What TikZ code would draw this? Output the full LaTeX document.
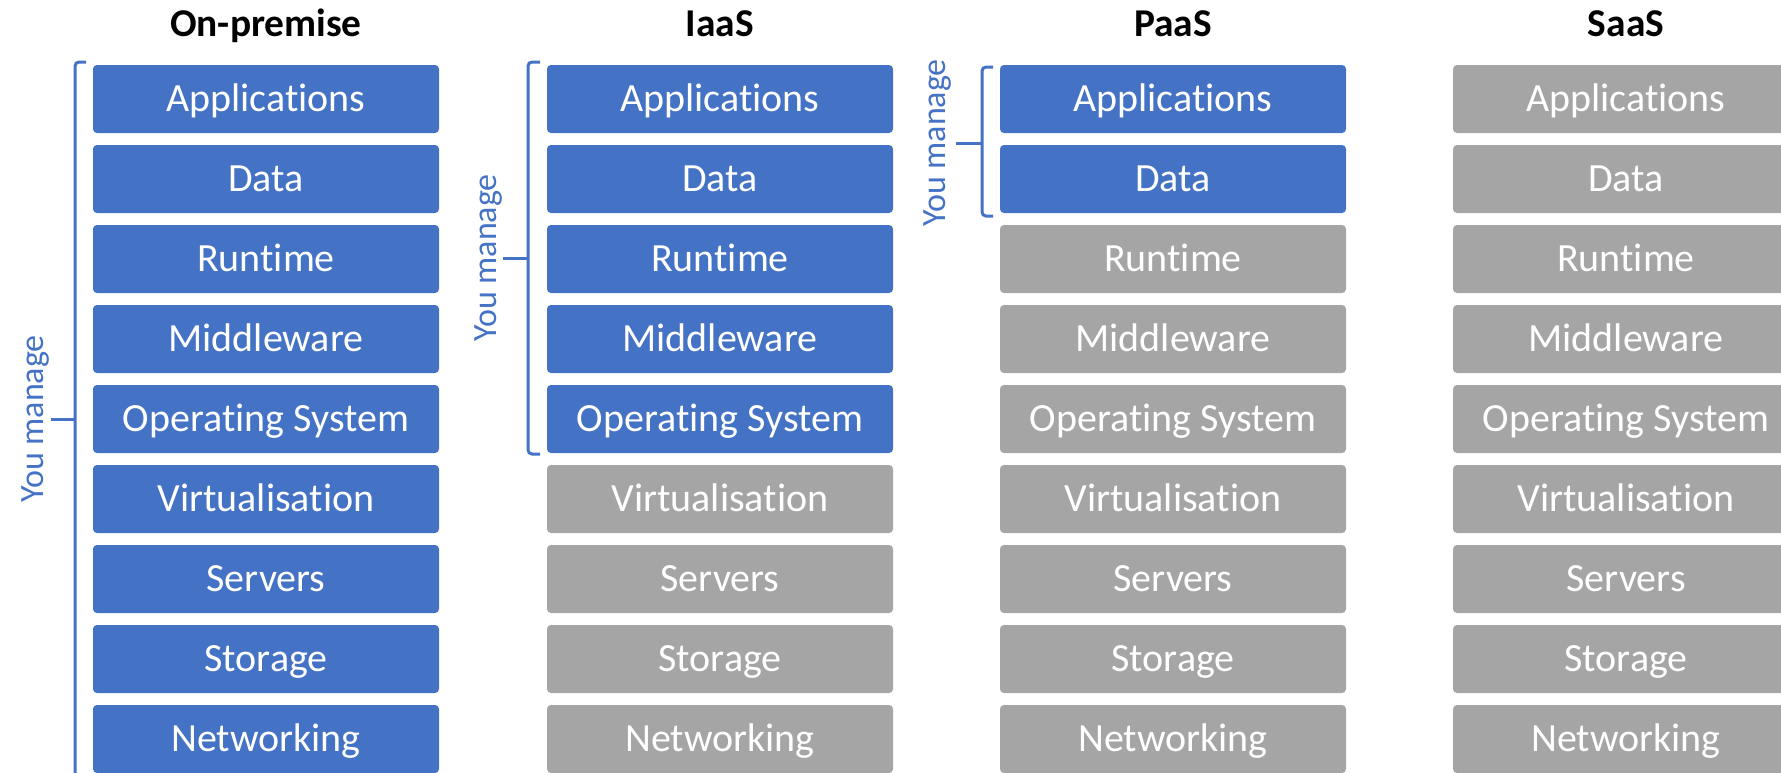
\documentclass[tikz,border=0pt]{standalone}
\usepackage{fontspec}
\setmainfont[RawFeature={-liga;-clig;-calt;-dlig}]{Carlito}
\definecolor{mblue}{HTML}{4472C4}
\definecolor{mgray}{HTML}{A5A5A5}
\begin{document}
\begin{tikzpicture}[x=0.5pt,y=-0.5pt,
  layer/.style={minimum width=173pt,minimum height=34pt,inner sep=0pt,rounded corners=2pt,
    text=white,font=\fontsize{20}{24}\selectfont,text height=12.9pt,text depth=0pt},
  mine/.style={layer,fill=mblue},
  theirs/.style={layer,fill=mgray},
  title/.style={font=\fontsize{19.7}{24}\bfseries\selectfont,anchor=base,inner sep=0pt},
  brace/.style={draw=mblue,line width=1.5pt,rounded corners=2pt},
  youlbl/.style={text=mblue,font=\fontsize{17}{20}\selectfont,rotate=90,inner sep=0pt,text height=11pt,text depth=0pt}]
\useasboundingbox (0,0) rectangle (1781,772);
\clip (0,0) rectangle (1781,772);
\foreach \r [count=\i from 0] in {Applications,Data,Runtime,Middleware,Operating System,Virtualisation,Servers,Storage,Networking}{
  \pgfmathsetmacro{\yy}{99+80*\i}
  \node[mine] (a\i) at (266,\yy) {\r};
  \ifnum\i<5 \node[mine] (b\i) at (720,\yy) {\r};\else\node[theirs] (b\i) at (720,\yy) {\r};\fi
  \ifnum\i<2 \node[mine] (c\i) at (1173,\yy) {\r};\else\node[theirs] (c\i) at (1173,\yy) {\r};\fi
  \node[theirs] (d\i) at (1626,\yy) {\r};
}
\node[title] (t1) at (266,36) {On-premise};
\node[title] (t2) at (720,36) {IaaS};
\node[title] (t3) at (1173,36) {PaaS};
\node[title] (t4) at (1626,36) {SaaS};
% braces
\draw[brace] (86,62) -- (75,62) -- (75,790);
\draw[brace] (75,419) -- (51,419);
\node[youlbl] (y1) at (32,419) {You manage};
\draw[brace] (540,62) -- (528,62) -- (528,454) -- (540,454);
\draw[brace] (528,258) -- (503,258);
\node[youlbl] (y2) at (485,258) {You manage};
\draw[brace] (993,67) -- (982,67) -- (982,216) -- (993,216);
\draw[brace] (982,143) -- (956,143);
\node[youlbl] (y3) at (934,143) {You manage};
\end{tikzpicture}
\end{document}
